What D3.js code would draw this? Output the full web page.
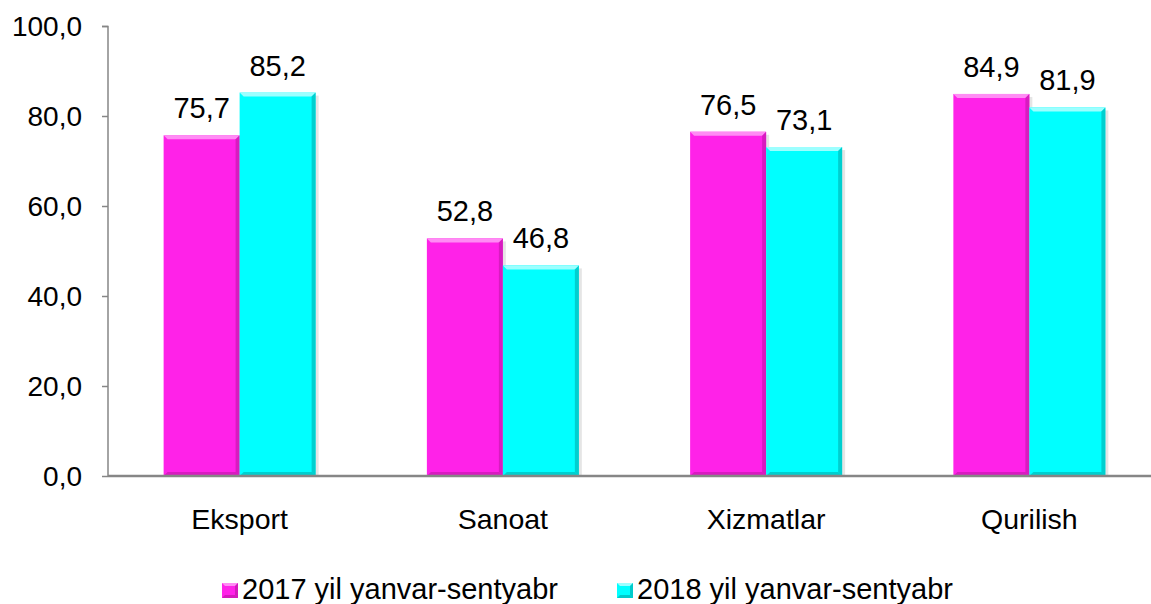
<!DOCTYPE html>
<html><head><meta charset="utf-8">
<script src="https://cdn.jsdelivr.net/npm/d3@7"></script>
<style>body{margin:0;background:#fff;}svg{display:block;font-family:"Liberation Sans",Arial,sans-serif;}</style>
</head><body>
<script>
const categories = ["Eksport","Sanoat","Xizmatlar","Qurilish"];
const seriesNames = ["2017 yil yanvar-sentyabr","2018 yil yanvar-sentyabr"];
const values2017 = [75.7, 52.8, 76.5, 84.9];
const values2018 = [85.2, 46.8, 73.1, 81.9];
const yTicks = [0,20,40,60,80,100];
const colors = ["#FF22E8","#00FFFF"];
const dark = ["#B8169F","#00A8A8"];
const light = ["#FF8CF4","#9CFFFF"];

const W=1151,H=604;
const svg=d3.select("body").append("svg").attr("width",W).attr("height",H);
const x0=d3.scaleBand().domain(categories).range([108,1161]).paddingInner(0).paddingOuter(0);
const x1=d3.scaleBand().domain([0,1]).range([x0.bandwidth()/2-76, x0.bandwidth()/2+76]);
const y=d3.scaleLinear().domain([0,100]).range([476,26]);
const fmt=v=>d3.format(".1f")(v).replace(".",",");
const FF="Liberation Sans, Arial, sans-serif";

// y axis
const yAxis=d3.axisLeft(y).tickValues(yTicks).tickSize(6).tickFormat(fmt);
const ga=svg.append("g").attr("transform","translate(108,0)").call(yAxis);
ga.attr("font-size",null).attr("font-family",null);
ga.select(".domain").attr("stroke","#868686").attr("stroke-width",1.5).attr("d","M-6,26.5H0V476");
ga.selectAll(".tick line").attr("stroke","#868686").attr("stroke-width",1.5);
ga.selectAll(".tick text").style("font-size","28px").attr("fill","#000").attr("x",-26).attr("dy","0.35em").style("font-family",FF);

const data=categories.map((c,i)=>({c,vals:[values2017[i],values2018[i]]}));
const bars=[];
data.forEach(d=>d.vals.forEach((v,s)=>bars.push({c:d.c,s,v})));

const g=svg.append("g");
const bw=x1.bandwidth();
bars.forEach(b=>{
  const bx=x0(b.c)+x1(b.s), by=y(b.v), bh=476-by, e=4;
  const gg=g.append("g");
  gg.append("rect").attr("x",bx+3).attr("y",by+3).attr("width",bw).attr("height",bh-3).attr("fill","#000").attr("opacity",0.10);
  gg.append("rect").attr("x",bx).attr("y",by).attr("width",bw).attr("height",bh).attr("fill",colors[b.s]);
  gg.append("polygon").attr("points",`${bx},${by} ${bx+bw},${by} ${bx+bw-e},${by+e} ${bx+e},${by+e}`).attr("fill",light[b.s]);
  gg.append("polygon").attr("points",`${bx+bw},${by} ${bx+bw},${by+bh} ${bx+bw-e},${by+bh-e} ${bx+bw-e},${by+e}`).attr("fill",dark[b.s]).attr("opacity",0.55);
  gg.append("polygon").attr("points",`${bx},${by+bh} ${bx+bw},${by+bh} ${bx+bw-e},${by+bh-e} ${bx+e},${by+bh-e}`).attr("fill",dark[b.s]).attr("opacity",0.55);
  g.append("text").attr("x",bx+bw/2).attr("y",by-17).attr("text-anchor","middle").style("font-size","29px").attr("fill","#000").text(fmt(b.v));
});

// x axis
const xAxis=d3.axisBottom(x0).tickSize(0);
const gx=svg.append("g").attr("transform","translate(0,476)").call(xAxis);
gx.attr("font-size",null).attr("font-family",null);
gx.select(".domain").attr("stroke","#868686").attr("stroke-width",2.5).attr("d","M108,0H1151");
gx.selectAll(".tick text").style("font-size","28.5px").attr("fill","#000").attr("dy",0).attr("y",53).style("font-family",FF);

// legend
const legX=[222,617];
seriesNames.forEach((n,i)=>{
  const lg=svg.append("g").attr("transform",`translate(${legX[i]},583)`);
  lg.append("rect").attr("width",16).attr("height",15).attr("fill",colors[i]);
  lg.append("polygon").attr("points","0,0 16,0 13,3 3,3").attr("fill",light[i]);
  lg.append("polygon").attr("points","16,0 16,15 13,12 13,3").attr("fill",dark[i]).attr("opacity",0.6);
  lg.append("polygon").attr("points","0,15 16,15 13,12 3,12").attr("fill",dark[i]).attr("opacity",0.6);
  lg.append("text").attr("x",20).attr("y",16).style("font-size","29px").attr("fill","#000").text(n);
});
</script>
</body></html>
